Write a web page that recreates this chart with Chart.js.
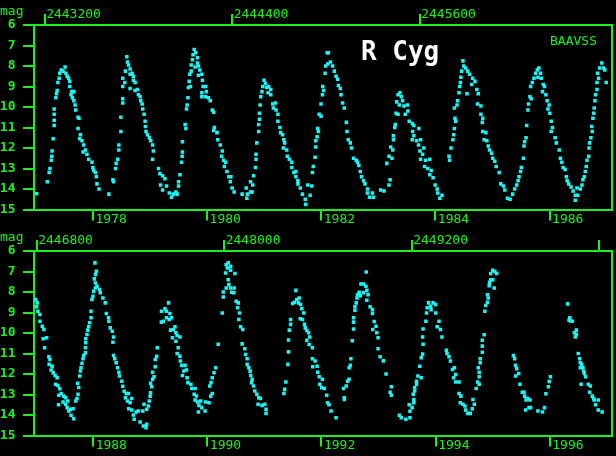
<!DOCTYPE html>
<html>
<head>
<meta charset="utf-8">
<script src="https://cdn.jsdelivr.net/npm/chart.js@4/dist/chart.umd.min.js"></script>
<style>
  html, body { margin: 0; padding: 0; background: #000; }
  #wrap { position: relative; width: 616px; height: 456px; overflow: hidden; }
  canvas { position: absolute; left: 0; }
  #c1 { top: 0; }
  #c2 { top: 226px; }
</style>
</head>
<body>
<div id="wrap">
  <canvas id="c1" width="616" height="228"></canvas>
  <canvas id="c2" width="616" height="230"></canvas>
</div>
<script>
const JD0 = 2440000;
const GREEN = '#1cf01c';
const CYAN = '#1cf4f4';

const obsUpper = [
  [3149,14.23],[3217,13.65],[3229,13.2],[3234,13.0],[3242,12.6],[3246,12.4],[3248,12.15],[3255,11.55],[3261,10.9],[3261,10.65],[3261,10.35],[3261,10.1],[3272,9.55],[3276,9.35],[3280,9.2],[3285,8.8],[3293,8.6],[3297,8.35],[3306,8.2],[3318,8.25],[3331,8.05],[3336,8.35],[3344,8.5],[3353,8.6],[3361,8.75],[3361,9.0],[3374,9.25],[3387,9.25],[3369,9.4],[3378,9.55],[3387,9.7],[3395,9.9],[3399,10.15],[3414,10.5],[3420,10.55],[3414,11.05],[3429,11.35],[3425,11.55],[3439,11.65],[3450,11.85],[3446,12.2],[3461,12.1],[3471,12.3],[3482,12.55],[3503,12.7],[3509,12.95],[3514,13.1],[3525,13.2],[3531,13.4],[3535,13.75],[3548,14.0],[3611,14.25],
  [3637,13.55],[3641,13.65],[3654,13.0],[3658,12.75],[3668,12.55],[3675,12.1],[3675,11.85],[3688,11.2],[3688,10.5],[3700,9.8],[3700,9.6],[3700,9.0],[3700,8.6],[3713,8.8],[3717,8.25],[3726,7.55],[3730,7.8],[3737,7.95],[3747,8.15],[3747,8.4],[3760,8.35],[3768,8.5],[3768,8.7],[3779,8.8],[3747,9.1],[3779,9.2],[3794,9.15],[3800,9.4],[3811,9.5],[3815,9.7],[3824,9.85],[3828,10.1],[3837,10.35],[3843,10.7],[3845,10.95],[3849,11.2],[3858,11.35],[3870,11.5],[3879,11.65],[3891,11.85],[3896,12.15],[3891,12.55],[3929,13.0],[3938,13.25],[3955,13.35],[3970,13.5],[3942,13.8],[3980,13.85],[3955,14.05],[3998,14.2],[4012,14.4],[4023,14.25],[4040,14.15],[4048,14.25],[4057,13.65],[4066,13.3],[4057,13.85],[4076,12.7],[4080,12.4],[4082,12.2],[4082,11.7],
  [4104,11.05],[4099,10.85],[4108,10.1],[4112,9.9],[4117,9.55],[4120,9.05],[4133,9.0],[4125,8.75],[4129,8.4],[4138,8.25],[4138,7.95],[4146,7.7],[4150,7.45],[4157,7.2],[4167,7.35],[4178,7.6],[4178,7.85],[4163,8.05],[4184,8.0],[4193,8.2],[4184,8.45],[4206,8.4],[4210,8.7],[4214,9.0],[4206,9.3],[4206,9.5],[4231,9.0],[4235,9.25],[4231,9.5],[4248,9.55],[4260,9.7],[4273,10.15],[4282,10.25],[4286,11.0],[4282,11.15],[4303,11.25],[4308,11.6],[4324,11.85],[4337,12.15],[4333,12.4],[4346,12.6],[4358,12.7],[4350,12.9],[4367,13.15],[4379,13.4],[4392,13.4],[4388,13.65],[4400,13.95],[4413,14.15],[4464,14.25],[4494,14.45],[4498,14.25],[4490,13.95],[4518,14.15],[4528,14.15],[4518,13.65],[4532,13.8],[4537,13.35],[4549,12.95],[4553,12.55],[4553,12.3],[4558,11.75],[4570,11.2],[4570,10.85],[4575,10.6],[4575,10.3],[4579,9.9],[4583,9.5],[4591,9.25],[4596,9.0],[4604,8.7],[4613,8.85],[4621,9.05],[4634,9.0],[4647,9.15],[4647,9.4],[4630,9.3],[4660,9.85],[4677,9.8],[4664,10.05],[4681,10.15],[4693,10.35],[4693,10.7],[4706,11.0],[4710,11.25],[4723,11.35],[4731,11.6],[4736,11.75],[4728,12.0],[4749,12.1],[4753,12.4],[4766,12.55],[4782,12.7],[4782,12.95],[4795,13.2],[4808,13.15],[4808,13.4],[4821,13.6],[4821,13.75],[4836,13.95],[4850,14.25],[4868,14.5],[4871,14.75],[4899,14.3],[4910,13.85],[4884,13.8],[4914,13.2],[4919,12.9],[4931,12.45],[4935,11.95],[4935,11.65],[4944,11.45],[4952,11.2],[4948,11.05],[4957,10.35],[4969,10.45],[4969,9.85],[4978,9.4],[4986,9.2],[4980,9.0],[4995,8.35],[4999,8.0],[5008,7.35],
  [5016,7.35],[5012,7.9],[5029,7.8],[5043,8.0],[5054,8.25],[5065,8.5],[5075,8.65],[5080,8.95],[5092,9.1],[5097,9.4],[5107,9.8],[5118,10.05],[5131,10.75],[5135,11.2],[5143,11.6],[5156,11.75],[5164,12.0],[5177,12.5],[5194,12.6],[5202,12.7],[5211,12.85],[5220,13.15],[5228,13.4],[5241,13.6],[5250,13.75],[5266,14.0],[5266,14.2],[5279,14.4],[5298,14.2],[5304,14.4],[5351,14.05],[5372,14.1],[5404,13.8],[5411,13.55],[5390,12.75],[5404,12.4],[5423,12.5],[5428,12.1],[5415,11.95],[5432,11.6],[5432,11.4],[5441,11.0],[5444,10.85],[5449,10.3],[5462,10.35],[5453,9.75],[5462,9.4],[5474,9.3],[5483,9.5],[5491,9.7],[5470,9.9],[5500,9.95],[5521,9.9],[5508,10.35],[5525,10.2],[5533,10.7],[5553,10.8],[5563,10.9],[5595,11.05],[5555,11.2],[5563,11.4],[5553,11.6],[5581,11.65],[5606,11.6],[5593,11.85],[5627,12.0],[5602,12.15],[5619,12.3],[5606,12.55],[5638,12.6],[5665,12.55],[5631,12.9],[5652,13.0],[5674,13.1],[5665,13.3],[5686,13.45],[5699,13.8],[5712,14.0],[5716,14.2],[5729,14.45],[5743,14.3],
  [5792,12.6],[5788,12.4],[5801,12.0],[5813,11.6],[5818,11.35],[5822,11.05],[5822,10.05],[5831,10.7],[5826,10.55],[5839,9.9],[5843,9.7],[5852,9.3],[5856,9.0],[5861,8.8],[5864,8.55],[5869,8.25],[5877,7.75],[5882,8.0],[5894,8.1],[5907,8.25],[5920,8.4],[5903,9.35],[5933,8.9],
  [5939,8.6],[5954,8.75],[5966,9.15],[5975,9.35],[5971,9.85],[5992,9.95],[5992,10.35],[6004,10.55],[6004,11.2],[6001,10.75],[6024,11.25],[6013,11.6],[6030,11.65],[6039,11.9],[6047,12.1],[6060,12.25],[6068,12.5],[6081,12.65],[6090,12.9],[6109,13.2],[6119,13.75],[6136,13.85],[6145,14.05],[6162,14.45],[6179,14.5],[6195,14.25],[6208,14.0],[6221,13.8],[6230,13.6],[6236,13.4],[6246,13.15],[6251,12.95],[6264,12.5],[6268,11.9],[6272,11.7],[6281,11.5],[6285,10.9],[6293,10.15],[6297,9.85],[6306,9.5],[6314,9.6],[6310,9.0],[6321,8.8],[6332,8.6],[6342,8.35],[6353,8.2],[6363,8.1],[6374,8.35],[6357,8.55],[6378,8.6],[6391,8.9],[6399,9.0],[6386,9.25],[6408,9.4],[6416,9.7],[6429,9.9],[6421,10.1],[6433,10.3],[6442,10.7],[6442,11.2],[6450,11.0],[6467,11.5],[6475,11.75],[6493,12.1],[6501,12.5],[6510,12.7],[6518,12.95],[6531,13.05],[6539,13.4],[6544,13.6],[6554,13.75],[6569,13.9],[6582,14.1],[6596,14.3],[6596,14.55],[6612,14.3],[6607,13.95],[6628,14.0],[6639,13.8],[6645,13.55],[6654,13.4],[6660,13.15],[6666,12.9],[6671,12.6],[6682,12.4],[6684,12.0],[6688,11.75],[6696,11.5],[6705,11.2],[6701,10.95],[6709,10.55],[6714,10.3],[6717,10.05],[6722,9.7],[6726,9.4],[6735,9.15],[6735,8.8],[6745,8.6],[6739,8.35],[6752,8.1],[6766,7.85],[6777,8.1],[6785,8.2],[6794,8.8]
];

const obsLower = [
  [6794,8.37],[6804,8.53],[6800,8.72],[6808,8.94],[6821,9.1],[6821,9.43],[6836,9.67],[6846,9.83],[6842,10.28],[6864,10.23],[6851,10.72],[6878,11.16],[6885,11.29],[6880,11.53],[6899,11.62],[6893,11.81],[6906,11.94],[6918,12.07],[6931,12.18],[6921,12.5],[6936,12.56],[6948,12.72],[6942,13.04],[6957,12.95],[6974,13.08],[6985,13.16],[6985,13.48],[6940,13.5],[6969,13.37],[6999,13.32],[6995,13.64],[7006,13.8],[7016,13.72],[7033,13.69],[7020,14.01],[7037,14.18],[7050,13.32],[7058,13.2],[7065,12.99],[7069,12.66],[7063,12.45],[7076,12.1],[7080,11.85],[7084,11.69],[7090,11.48],[7097,11.26],[7101,11.1],[7112,10.97],[7112,10.72],[7114,10.48],[7114,10.28],[7122,10.07],[7127,9.86],[7133,9.7],[7139,9.5],[7148,9.26],[7148,8.94],[7154,8.37],[7160,8.21],[7165,7.97],[7176,7.8],[7176,7.56],[7186,7.72],[7203,7.88],[7207,8.04],[7169,7.36],[7177,7.15],[7182,6.99],[7173,6.58],[7224,8.29],[7239,8.53],[7246,9.05],[7260,9.26],[7262,9.43],[7271,9.75],[7284,9.91],[7292,10.19],[7288,10.45],[7292,11.1],[7300,11.26],[7309,11.45],[7318,11.69],[7326,11.91],[7330,12.1],[7345,12.35],[7351,12.6],[7360,12.84],[7373,12.95],[7388,12.95],[7368,13.16],[7381,13.32],[7398,13.4],[7409,13.2],[7389,13.69],[7409,13.76],[7419,14.0],[7424,14.21],[7437,13.85],[7451,13.8],[7462,14.34],[7483,14.54],[7500,14.62],[7504,14.45],[7479,13.8],[7487,13.48],[7504,13.72],[7515,13.56],[7521,13.32],[7526,13.08],[7529,12.91],[7536,12.62],[7529,12.45],[7542,12.26],[7551,12.13],[7542,11.91],[7559,11.65],[7559,11.29],[7568,11.13],[7572,10.72],
  [7598,9.47],[7610,9.43],[7599,8.94],[7621,8.82],[7631,8.94],[7644,8.53],[7631,9.26],[7648,9.34],[7653,9.05],[7663,9.26],[7657,9.86],[7674,9.83],[7685,9.7],[7691,9.99],[7669,10.23],[7699,10.12],[7717,10.19],[7691,10.4],[7706,10.72],[7699,11.0],[7717,11.13],[7720,11.37],[7729,11.58],[7733,12.07],
  [7750,11.58],[7742,11.85],[7759,11.81],[7763,12.18],[7768,12.42],[7787,12.5],[7793,12.71],[7814,12.71],[7808,12.99],[7822,13.07],[7814,13.27],[7829,13.37],[7850,13.32],[7839,13.53],[7857,13.64],[7878,13.8],[7835,13.85],[7882,13.37],[7903,13.4],[7914,13.08],[7924,12.95],[7908,12.59],[7916,12.42],[7924,12.18],[7935,11.94],[7946,11.69],[7962,10.55],[7988,9.02],[7994,8.24],[7994,8.0],[8013,7.8],[8030,7.64],[8026,7.4],[8009,7.07],[8020,6.83],[8026,6.58],[8013,6.67],[8041,6.75],[8041,6.94],[8069,7.1],[8041,7.8],[8048,8.01],[8062,8.04],[8064,7.8],[8077,8.45],[8090,8.53],[8086,8.77],[8098,9.02],[8094,9.34],[8105,9.7],[8119,9.83],[8115,10.53],[8132,10.77],[8137,11.05],[8147,11.26],[8147,11.53],[8158,11.69],[8166,11.86],[8170,12.07],[8179,12.26],[8175,12.42],[8188,12.59],[8196,12.83],[8209,12.99],[8221,13.16],[8232,13.2],[8217,13.48],[8242,13.53],[8260,13.48],[8268,13.72],[8268,13.92],
  [8382,12.95],[8387,12.75],[8395,12.39],[8408,11.53],[8412,10.92],[8412,10.34],[8417,9.86],[8425,9.58],[8425,9.34],[8438,8.56],[8450,8.5],[8459,7.92],[8465,8.37],[8480,8.29],[8476,8.53],[8489,8.61],[8497,8.82],[8510,9.02],[8487,9.31],[8501,9.34],[8514,9.58],[8519,9.75],[8529,9.88],[8540,9.99],[8548,10.19],[8529,10.35],[8544,10.56],[8565,10.72],[8565,11.26],[8582,11.37],[8567,11.65],[8595,11.62],[8599,11.91],[8608,12.13],[8629,12.26],[8612,12.5],[8624,12.67],[8641,12.71],[8656,13.04],[8662,13.4],[8671,13.5],[8684,13.8],[8716,14.13],
  [8769,13.16],[8769,13.24],[8764,12.71],[8781,12.59],[8790,12.35],[8799,12.26],[8800,11.69],[8807,11.58],[8811,11.26],[8820,10.38],[8828,9.8],[8828,9.47],[8828,9.26],[8837,8.89],[8837,8.72],[8845,8.53],[8850,8.29],[8853,8.13],[8864,8.01],[8871,8.18],[8875,7.61],[8892,7.61],[8892,8.04],[8907,7.72],[8913,7.92],[8913,8.4],[8921,8.13],[8909,7.02],[8934,8.72],[8949,8.86],[8949,9.05],[8960,9.44],[8972,9.67],[8951,9.83],[8977,9.99],[8985,10.23],[8985,10.77],[8998,11.16],[9019,11.36],[9036,12.0],[9070,12.62],[9070,13.04],[9062,12.89],
  [9121,14.01],[9133,14.13],[9163,14.21],[9189,14.13],[9189,13.82],[9184,13.5],[9203,13.64],[9214,13.4],[9214,13.24],[9210,12.99],[9219,12.83],[9219,12.67],[9231,12.5],[9231,12.35],[9240,12.1],[9261,12.18],[9261,11.21],[9252,11.62],[9270,11.03],[9270,10.19],[9273,10.55],[9273,9.8],[9291,9.43],[9295,9.02],[9299,8.77],[9308,8.53],[9321,8.7],[9324,8.86],[9337,8.53],[9354,8.61],[9354,9.02],[9363,9.7],[9375,9.43],[9384,9.83],[9394,10.19],[9422,10.84],[9426,11.0],[9439,11.16],[9448,11.37],[9461,11.78],[9473,11.69],[9482,12.02],[9482,12.39],[9469,12.18],[9503,12.39],[9503,12.95],[9515,13.08],[9511,13.4],[9528,13.48],[9541,13.56],[9545,13.76],[9558,13.92],[9575,13.92],[9588,13.69],[9592,13.24],
  [9601,13.48],[9613,12.71],[9632,12.5],[9632,12.13],[9632,11.91],[9622,12.39],[9626,11.69],[9639,11.45],[9639,11.26],[9652,10.94],[9652,10.64],[9652,10.35],[9664,10.09],[9668,8.94],[9674,8.66],[9685,8.5],[9685,8.13],[9690,8.29],[9728,7.8],[9696,7.69],[9698,7.53],[9706,7.4],[9706,7.1],[9719,7.4],[9719,6.94],[9732,7.0],[9744,7.1],
  [9851,11.1],[9859,11.26],[9865,11.58],[9865,12.1],[9872,11.74],[9885,11.98],[9893,12.5],[9908,12.89],[9919,12.89],[9923,13.08],[9932,13.27],[9944,13.2],[9957,13.27],[9951,13.64],[9961,13.64],[9929,13.76],[10008,13.8],[10037,13.85],[10050,13.64],[10059,12.96],[10075,12.62],[10080,12.37],[10088,12.13],
  [10199,8.58],[10212,9.26],[10207,9.38],[10220,9.43],[10228,9.43],[10254,9.86],[10254,10.07],[10241,9.99],[10247,10.19],[10266,11.0],[10275,11.26],[10279,11.45],[10279,11.69],[10288,11.53],[10296,11.69],[10301,11.86],[10305,11.97],[10313,12.13],[10284,12.5],[10330,12.5],[10343,12.59],[10339,12.89],[10356,13.08],[10368,13.27],[10364,13.2],[10394,13.27],[10394,13.76],[10377,13.5],[10419,13.85]
];

// axis ticks
const jdTicksUpper = [2443200, 2444400, 2445600];
const jdTicksLower = [2446800, 2448000, 2449200, 2450400];
const yearsUpper = [1978, 1980, 1982, 1984, 1986];
const yearsLower = [1988, 1990, 1992, 1994, 1996];
const magTicks = [6, 7, 8, 9, 10, 11, 12, 13, 14, 15];

// x range of each panel, JD - 2440000
const rangeUpper = [3132, 6831];
const rangeLower = [6783, 10482];

// JD of 1 January of a year, minus JD0
const jan1 = y => Date.UTC(y, 0, 1) / 86400000 + 2440587.5 - JD0;

const panelText = {
    id: 'panelText',
    afterDraw(chart, args, opts) {
        const ctx = chart.ctx;
        ctx.save();
        ctx.textAlign = 'left';
        ctx.textBaseline = 'alphabetic';
        (opts.items || []).forEach(t => {
            ctx.font = t.font;
            ctx.fillStyle = t.color;
            ctx.fillText(t.text, t.x, t.y);
        });
        ctx.restore();
    }
};

function makePanel(id, obs, jdTicks, years, range, texts) {
    const canvas = document.getElementById(id);
    const H = canvas.height;
    const tickFont = {family: 'DejaVu Sans Mono', size: 13, lineHeight: 1};
    const grid = () => ({display: true, drawOnChartArea: false, drawTicks: true, tickLength: 11, color: GREEN, lineWidth: 2});
    const border = () => ({display: true, color: GREEN, width: 2});

    return new Chart(canvas, {
        type: 'scatter',
        data: {
            datasets: [{
                data: obs.map(o => ({x: o[0], y: o[1]})),
                pointStyle: 'rect',
                pointRadius: 2.5,
                pointBorderWidth: 0,
                backgroundColor: CYAN,
                borderColor: CYAN
            }]
        },
        options: {
            responsive: false,
            animation: false,
            devicePixelRatio: 1,
            layout: {padding: 0},
            plugins: {
                legend: {display: false},
                tooltip: {enabled: false},
                panelText: {items: texts}
            },
            scales: {
                x: {
                    type: 'linear', position: 'bottom', min: range[0], max: range[1],
                    afterBuildTicks: s => { s.ticks = years.map(y => ({value: jan1(y)})); },
                    afterFit: s => { s.height = H - 209.5; },
                    grid: grid(), border: border(),
                    ticks: {
                        autoSkip: false, maxRotation: 0, align: 'start', labelOffset: 2.5, padding: -7,
                        color: GREEN, font: tickFont,
                        callback: (v, i) => String(years[i])
                    }
                },
                xTop: {
                    type: 'linear', position: 'top', min: range[0], max: range[1],
                    afterBuildTicks: s => { s.ticks = jdTicks.map(j => ({value: j - JD0})); },
                    afterFit: s => { s.height = 25; },
                    grid: grid(), border: border(),
                    ticks: {
                        autoSkip: false, maxRotation: 0, align: 'start', labelOffset: 1.5, padding: -7.5,
                        color: GREEN, font: tickFont,
                        // the last label would run off the edge, so it is left out
                        callback: function (v, i) { return v > this.max - 380 ? '' : String(jdTicks[i]); }
                    }
                },
                y: {
                    type: 'linear', position: 'left', min: 6, max: 15, reverse: true,
                    afterBuildTicks: s => { s.ticks = magTicks.map(m => ({value: m})); },
                    afterFit: s => { s.width = 34; },
                    grid: grid(), border: border(),
                    ticks: {
                        autoSkip: false, padding: 7.5, color: GREEN,
                        font: {family: 'DejaVu Sans Mono', size: 13, weight: 'bold', lineHeight: 1},
                        callback: v => String(v)
                    }
                },
                yRight: {
                    type: 'linear', position: 'right', min: 6, max: 15, reverse: true,
                    afterFit: s => { s.width = 1; },
                    grid: {display: false},
                    border: border(),
                    ticks: {display: false}
                }
            }
        },
        plugins: [panelText]
    });
}

const magLabel = {text: 'mag', x: 0, y: 15, font: '13px "DejaVu Sans Mono"', color: GREEN};

makePanel('c1', obsUpper, jdTicksUpper, yearsUpper, rangeUpper, [
    magLabel,
    {text: 'R Cyg', x: 361, y: 60, font: 'bold 26px "DejaVu Sans Mono"', color: '#ffffff'},
    {text: 'BAAVSS', x: 550, y: 45, font: '13px "DejaVu Sans Mono"', color: GREEN}
]);

makePanel('c2', obsLower, jdTicksLower, yearsLower, rangeLower, [magLabel]);
</script>
</body>
</html>
